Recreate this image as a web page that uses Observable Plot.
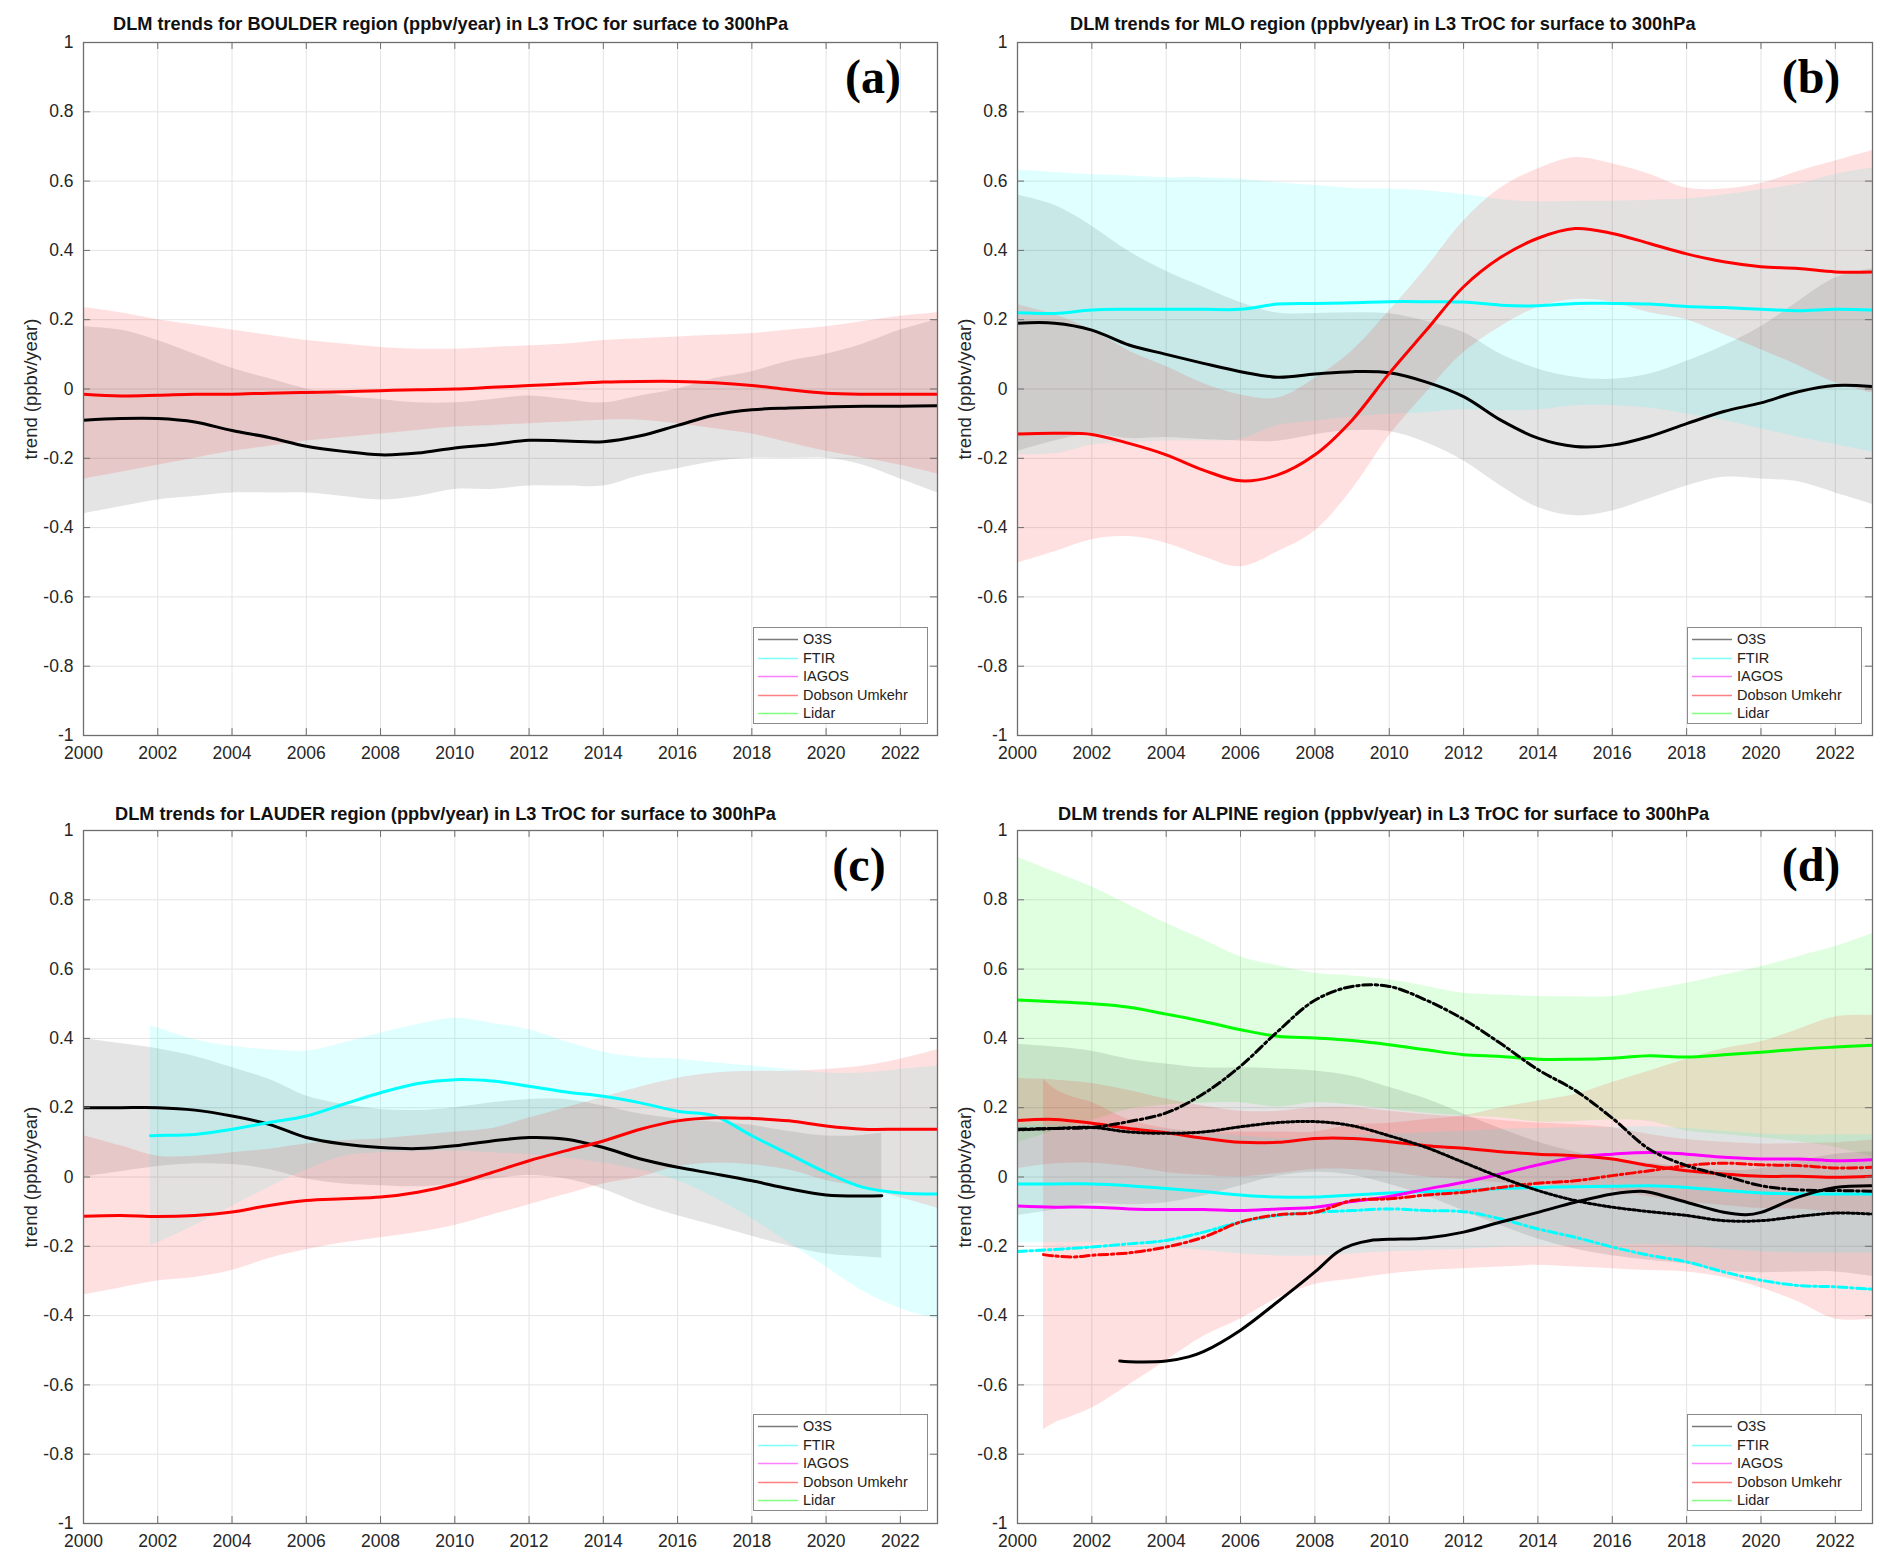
<!DOCTYPE html>
<html><head><meta charset="utf-8">
<script src="https://cdn.jsdelivr.net/npm/d3@7"></script>
<script src="https://cdn.jsdelivr.net/npm/@observablehq/plot@0.6"></script>
<style>
body{margin:0;background:#fff;font-family:"Liberation Sans",Arial,sans-serif;}
#fig{position:relative;width:1892px;height:1566px;overflow:hidden;}
.panel{position:absolute;}
.title{position:absolute;font-weight:bold;font-size:18.2px;line-height:20px;white-space:nowrap;color:#111;}
.letter{position:absolute;font-family:"Liberation Serif","Times New Roman",serif;font-weight:bold;font-size:48px;line-height:48px;color:#000;transform:translate(-50%,-50%);}
.legend{position:absolute;box-sizing:border-box;border:1.5px solid #8a8a8a;background:#fff;font-size:14.5px;color:#222;}
.legend .row{position:absolute;left:0;height:18px;line-height:18px;white-space:nowrap;}
</style></head><body><div id="fig"></div>
<script>
// ---------------- DATA ----------------
const YEARS = [2000,2001,2002,2003,2004,2005,2006,2007,2008,2009,2010,2011,2012,2013,2014,2015,2016,2017,2018,2019,2020,2021,2022,2023];
const X_TICKS = [2000,2002,2004,2006,2008,2010,2012,2014,2016,2018,2020,2022];
const Y_TICKS = [-1,-0.8,-0.6,-0.4,-0.2,0,0.2,0.4,0.6,0.8,1];
const Y_LABEL = "trend (ppbv/year)";
const SERIES = ["O3S","FTIR","IAGOS","Dobson Umkehr","Lidar"];
const TITLES = [
  "DLM trends for BOULDER region (ppbv/year) in L3 TrOC for surface to 300hPa",
  "DLM trends for MLO region (ppbv/year) in L3 TrOC for surface to 300hPa",
  "DLM trends for LAUDER region (ppbv/year) in L3 TrOC for surface to 300hPa",
  "DLM trends for ALPINE region (ppbv/year) in L3 TrOC for surface to 300hPa"
];
const LETTERS = ["(a)","(b)","(c)","(d)"];

// (a) BOULDER
const a_o3s    = [-0.09,-0.085,-0.085,-0.095,-0.12,-0.14,-0.165,-0.18,-0.19,-0.185,-0.17,-0.16,-0.148,-0.15,-0.152,-0.135,-0.105,-0.075,-0.06,-0.055,-0.052,-0.05,-0.05,-0.048];
const a_o3s_lo = [-0.36,-0.34,-0.32,-0.31,-0.3,-0.3,-0.3,-0.31,-0.32,-0.31,-0.29,-0.29,-0.28,-0.28,-0.28,-0.25,-0.23,-0.21,-0.2,-0.2,-0.2,-0.22,-0.26,-0.3];
const a_o3s_hi = [0.18,0.17,0.14,0.1,0.06,0.03,0.0,-0.02,-0.03,-0.04,-0.04,-0.03,-0.02,-0.03,-0.04,-0.02,0.0,0.03,0.05,0.08,0.1,0.13,0.17,0.2];
const a_dob    = [-0.015,-0.02,-0.018,-0.015,-0.015,-0.012,-0.01,-0.008,-0.005,-0.002,0.0,0.005,0.01,0.015,0.02,0.022,0.022,0.018,0.01,-0.002,-0.012,-0.015,-0.015,-0.015];
const a_dob_lo = [-0.26,-0.24,-0.22,-0.2,-0.18,-0.165,-0.15,-0.14,-0.13,-0.12,-0.11,-0.105,-0.1,-0.095,-0.09,-0.09,-0.1,-0.115,-0.13,-0.155,-0.18,-0.2,-0.22,-0.245];
const a_dob_hi = [0.235,0.22,0.2,0.185,0.17,0.155,0.14,0.13,0.12,0.115,0.115,0.12,0.125,0.13,0.14,0.145,0.15,0.155,0.16,0.17,0.18,0.195,0.21,0.22];

// (b) MLO
const b_o3s    = [0.19,0.19,0.17,0.127,0.1,0.074,0.05,0.034,0.043,0.05,0.047,0.02,-0.022,-0.09,-0.142,-0.166,-0.162,-0.137,-0.1,-0.065,-0.04,-0.008,0.01,0.007];
const b_o3s_lo = [-0.18,-0.15,-0.13,-0.143,-0.14,-0.146,-0.15,-0.151,-0.132,-0.12,-0.123,-0.155,-0.207,-0.28,-0.342,-0.366,-0.352,-0.317,-0.28,-0.255,-0.26,-0.268,-0.3,-0.333];
const b_o3s_hi = [0.56,0.53,0.47,0.397,0.34,0.294,0.25,0.219,0.218,0.22,0.217,0.195,0.163,0.1,0.058,0.034,0.028,0.043,0.08,0.125,0.18,0.252,0.32,0.347];
const b_ftir    = [0.22,0.218,0.228,0.23,0.23,0.23,0.23,0.245,0.247,0.249,0.252,0.252,0.251,0.242,0.24,0.247,0.247,0.245,0.238,0.235,0.23,0.226,0.23,0.228];
const b_ftir_lo = [-0.19,-0.187,-0.162,-0.155,-0.15,-0.15,-0.145,-0.105,-0.093,-0.081,-0.073,-0.068,-0.059,-0.063,-0.06,-0.048,-0.048,-0.055,-0.072,-0.09,-0.115,-0.139,-0.16,-0.182];
const b_ftir_hi = [0.632,0.625,0.618,0.615,0.61,0.61,0.605,0.595,0.587,0.579,0.577,0.572,0.561,0.547,0.54,0.542,0.542,0.545,0.548,0.56,0.575,0.591,0.62,0.638];
const b_dob    = [-0.13,-0.128,-0.131,-0.157,-0.19,-0.234,-0.265,-0.248,-0.19,-0.09,0.045,0.17,0.295,0.38,0.435,0.463,0.449,0.42,0.39,0.367,0.353,0.348,0.338,0.338];
const b_dob_lo = [-0.503,-0.47,-0.435,-0.426,-0.445,-0.484,-0.513,-0.47,-0.41,-0.29,-0.135,-0.01,0.105,0.18,0.235,0.258,0.25,0.22,0.2,0.157,0.113,0.068,0.018,-0.012];
const b_dob_hi = [0.243,0.214,0.17,0.11,0.065,0.016,-0.017,-0.026,0.03,0.11,0.225,0.35,0.485,0.58,0.635,0.668,0.65,0.62,0.58,0.577,0.593,0.628,0.658,0.688];

// (c) LAUDER
const c_o3s_years = [2000,2001,2002,2003,2004,2005,2006,2007,2008,2009,2010,2011,2012,2013,2014,2015,2016,2017,2018,2019,2020,2021,2021.5];
const c_o3s    = [0.2,0.2,0.2,0.193,0.176,0.152,0.114,0.095,0.085,0.082,0.09,0.104,0.114,0.109,0.085,0.052,0.028,0.009,-0.011,-0.034,-0.052,-0.055,-0.054];
const c_o3s_lo = [0.0,0.015,0.03,0.038,0.036,0.022,-0.006,-0.02,-0.025,-0.028,-0.02,-0.006,0.004,-0.006,-0.035,-0.078,-0.112,-0.141,-0.171,-0.199,-0.222,-0.23,-0.234];
const c_o3s_hi = [0.4,0.385,0.37,0.348,0.316,0.282,0.234,0.21,0.195,0.192,0.2,0.214,0.224,0.224,0.205,0.182,0.168,0.159,0.149,0.131,0.118,0.12,0.126];
const c_ftir_years = [2001.8,2002,2003,2004,2005,2006,2007,2008,2009,2010,2011,2012,2013,2014,2015,2016,2017,2018,2019,2020,2021,2022,2023];
const c_ftir    = [0.119,0.12,0.123,0.138,0.157,0.176,0.21,0.243,0.27,0.281,0.277,0.262,0.245,0.233,0.214,0.19,0.176,0.119,0.066,0.013,-0.03,-0.046,-0.049];
const c_ftir_lo = [-0.198,-0.19,-0.14,-0.085,-0.03,0.02,0.06,0.07,0.073,0.075,0.07,0.065,0.055,0.04,0.02,-0.01,-0.06,-0.12,-0.19,-0.26,-0.33,-0.38,-0.41];
const c_ftir_hi = [0.436,0.43,0.396,0.377,0.367,0.363,0.387,0.415,0.44,0.458,0.444,0.425,0.39,0.36,0.345,0.34,0.33,0.32,0.31,0.3,0.3,0.31,0.32];
const c_dob    = [-0.113,-0.111,-0.114,-0.111,-0.101,-0.082,-0.068,-0.063,-0.058,-0.044,-0.02,0.013,0.047,0.076,0.104,0.138,0.162,0.171,0.169,0.162,0.147,0.138,0.138,0.138];
const c_dob_lo = [-0.34,-0.32,-0.3,-0.29,-0.27,-0.235,-0.21,-0.19,-0.175,-0.16,-0.14,-0.11,-0.08,-0.05,-0.02,0.0,0.03,0.04,0.035,0.02,-0.01,-0.03,-0.06,-0.09];
const c_dob_hi = [0.12,0.09,0.06,0.06,0.07,0.08,0.095,0.105,0.11,0.12,0.13,0.14,0.17,0.2,0.23,0.26,0.285,0.3,0.305,0.305,0.31,0.32,0.34,0.367];

// (d) ALPINE
const d_o3s1_years = [2002.75,2003,2004,2004.6,2005,2006,2007,2008,2008.6,2009,2009.5,2010,2011,2012,2013,2014,2015,2016,2016.75,2017,2018,2019,2019.6,2020,2021,2022,2023];
const d_o3s1 = [-0.531,-0.533,-0.531,-0.519,-0.504,-0.442,-0.36,-0.274,-0.217,-0.196,-0.183,-0.18,-0.176,-0.159,-0.13,-0.102,-0.073,-0.049,-0.041,-0.044,-0.073,-0.102,-0.109,-0.102,-0.058,-0.03,-0.025];
const d_o3s2 = [0.138,0.14,0.143,0.16,0.185,0.24,0.32,0.42,0.51,0.55,0.55,0.51,0.455,0.385,0.31,0.25,0.17,0.08,0.033,0.004,-0.025,-0.037,-0.039,-0.041];
const d_o3s3 = [0.136,0.14,0.143,0.13,0.126,0.13,0.145,0.157,0.16,0.148,0.119,0.085,0.042,-0.001,-0.039,-0.068,-0.087,-0.1,-0.111,-0.126,-0.126,-0.114,-0.104,-0.107];
const d_o3s3_lo = [-0.111,-0.095,-0.077,-0.08,-0.074,-0.055,-0.025,0.002,0.014,0.005,-0.021,-0.055,-0.098,-0.141,-0.179,-0.208,-0.227,-0.24,-0.251,-0.271,-0.276,-0.274,-0.274,-0.287];
const d_o3s3_hi = [0.383,0.375,0.363,0.34,0.326,0.315,0.315,0.312,0.306,0.291,0.259,0.225,0.182,0.139,0.101,0.072,0.053,0.04,0.029,0.019,0.024,0.046,0.066,0.073];
const d_ftir1 = [-0.02,-0.02,-0.02,-0.025,-0.033,-0.042,-0.052,-0.058,-0.058,-0.052,-0.046,-0.042,-0.039,-0.033,-0.03,-0.028,-0.027,-0.025,-0.03,-0.039,-0.046,-0.049,-0.049,-0.049];
const d_ftir1_lo = [-0.19,-0.19,-0.19,-0.195,-0.203,-0.212,-0.222,-0.228,-0.228,-0.222,-0.216,-0.212,-0.209,-0.203,-0.2,-0.198,-0.197,-0.195,-0.2,-0.209,-0.216,-0.219,-0.219,-0.219];
const d_ftir1_hi = [0.15,0.15,0.15,0.145,0.137,0.128,0.118,0.112,0.112,0.118,0.124,0.128,0.131,0.137,0.14,0.142,0.143,0.145,0.14,0.131,0.124,0.121,0.121,0.121];
const d_ftir2 = [-0.215,-0.209,-0.202,-0.193,-0.183,-0.159,-0.13,-0.111,-0.102,-0.097,-0.092,-0.097,-0.1,-0.121,-0.15,-0.174,-0.202,-0.226,-0.245,-0.274,-0.298,-0.313,-0.317,-0.324];
const d_iag = [-0.084,-0.087,-0.087,-0.092,-0.094,-0.094,-0.097,-0.092,-0.087,-0.071,-0.056,-0.035,-0.015,0.009,0.035,0.057,0.066,0.071,0.066,0.057,0.052,0.052,0.047,0.05];
const d_dob1 = [0.163,0.166,0.155,0.14,0.128,0.112,0.1,0.1,0.111,0.111,0.102,0.09,0.083,0.073,0.066,0.061,0.052,0.033,0.018,0.009,0.002,0.002,-0.001,0.002];
const d_dob1_lo = [0.024,0.038,0.04,0.03,0.013,0.005,0.0,0.01,0.022,0.022,0.014,0.0,-0.007,-0.017,-0.024,-0.029,-0.038,-0.057,-0.072,-0.082,-0.091,-0.093,-0.101,-0.103];
const d_dob1_hi = [0.284,0.28,0.27,0.25,0.225,0.205,0.19,0.19,0.2,0.2,0.19,0.18,0.173,0.163,0.156,0.151,0.142,0.123,0.108,0.1,0.095,0.097,0.099,0.107];
const d_dob2_years = [2000.7,2001,2001.5,2002,2003,2004,2005,2006,2007,2008,2009,2010,2011,2012,2013,2014,2015,2016,2017,2018,2019,2020,2021,2022,2023];
const d_dob2 = [-0.224,-0.228,-0.231,-0.226,-0.219,-0.202,-0.174,-0.13,-0.109,-0.102,-0.068,-0.063,-0.052,-0.044,-0.03,-0.018,-0.011,0.004,0.018,0.033,0.04,0.035,0.033,0.026,0.028];
const d_dob2_lo = [-0.73,-0.71,-0.69,-0.667,-0.6,-0.53,-0.46,-0.41,-0.35,-0.31,-0.295,-0.28,-0.27,-0.265,-0.26,-0.255,-0.26,-0.265,-0.27,-0.274,-0.29,-0.32,-0.36,-0.41,-0.41];
const d_dob2_hi = [0.282,0.254,0.23,0.215,0.165,0.14,0.13,0.13,0.13,0.13,0.15,0.155,0.166,0.177,0.2,0.219,0.238,0.273,0.306,0.34,0.37,0.39,0.426,0.462,0.466];
const d_lid = [0.511,0.506,0.5,0.49,0.47,0.449,0.425,0.406,0.401,0.394,0.382,0.367,0.353,0.348,0.34,0.34,0.343,0.35,0.346,0.353,0.36,0.369,0.375,0.38];
const d_lid_lo = [0.099,0.132,0.163,0.195,0.208,0.213,0.214,0.202,0.214,0.208,0.195,0.184,0.176,0.171,0.159,0.16,0.165,0.16,0.133,0.123,0.113,0.102,0.085,0.057];
const d_lid_hi = [0.923,0.88,0.837,0.785,0.732,0.685,0.636,0.61,0.588,0.58,0.569,0.55,0.53,0.525,0.521,0.52,0.521,0.54,0.559,0.583,0.607,0.636,0.665,0.703];

// ---------------- helpers ----------------
const COLORS = {"O3S":"#000000","FTIR":"#00ffff","IAGOS":"#ff00ff","Dobson Umkehr":"#ff0000","Lidar":"#00ff00"};
const LEGEND_COLORS = {"O3S":"#7a7a7a","FTIR":"#80ffff","IAGOS":"#ff80ff","Dobson Umkehr":"#ff8080","Lidar":"#80ff80"};
const pts = (xs, ys) => xs.map((x, i) => ({x, y: ys[i]}));
const band = (xs, lo, hi) => xs.map((x, i) => ({x, lo: lo[i], hi: hi[i]}));
const DASH = {solid: null, dashdot: "9,3.5,2.5,3.5", dot: "2.5,2.5"};

const fig = document.getElementById("fig");
const fmtY = d => Math.abs(d) < 1e-9 ? "0" : String(+d.toFixed(1)).replace("\u2212","-");

function makePanel(cfg) {
  const {left, top, width, height, mL, mR, mT, mB, bands, lines} = cfg;
  const marks = [
    Plot.ruleX(X_TICKS, {stroke: "#e4e4e4", strokeWidth: 1}),
    Plot.ruleY(Y_TICKS, {stroke: "#e4e4e4", strokeWidth: 1}),
    ...bands.map(b => Plot.areaY(b.data, {x: "x", y1: "lo", y2: "hi", fill: COLORS[b.s], fillOpacity: b.s === "O3S" ? 0.105 : 0.12, curve: "catmull-rom", clip: true})),
    ...lines.map(l => Plot.line(l.data, {x: "x", y: "y", stroke: COLORS[l.s], strokeWidth: 3, strokeDasharray: DASH[l.dash || "solid"], curve: "catmull-rom", clip: true})),
    // inward ticks on all four sides
    Plot.ruleX(X_TICKS, {y1: -1, y2: -0.98, stroke: "#6e6e6e"}),
    Plot.ruleX(X_TICKS, {y1: 1, y2: 0.98, stroke: "#6e6e6e"}),
    Plot.ruleY(Y_TICKS, {x1: 2000, x2: 2000.19, stroke: "#6e6e6e"}),
    Plot.ruleY(Y_TICKS, {x1: 2023, x2: 2022.81, stroke: "#6e6e6e"}),
    Plot.frame({stroke: "#6e6e6e", strokeWidth: 1.3}),
    Plot.axisX(X_TICKS, {tickSize: 0, tickPadding: 11, tickFormat: d => String(d), fontSize: 17.5, label: null}),
    Plot.axisY(Y_TICKS, {tickSize: 0, tickPadding: 10, tickFormat: fmtY, fontSize: 17.5, label: null}),
    Plot.text([Y_LABEL], {frameAnchor: "left", textAnchor: "middle", lineAnchor: "middle", rotate: -90, dx: -52, fontSize: 18.5, fill: "#262626"})
  ];
  const svg = Plot.plot({
    width, height, marginLeft: mL, marginRight: mR, marginTop: mT, marginBottom: mB,
    x: {domain: [2000, 2023]}, y: {domain: [-1, 1]},
    style: {fontFamily: "'Liberation Sans', Arial, sans-serif", fontSize: "17px", color: "#262626", background: "#fff", overflow: "visible"},
    marks
  });
  const div = document.createElement("div");
  div.className = "panel";
  div.style.left = left + "px"; div.style.top = top + "px";
  div.appendChild(svg);
  fig.appendChild(div);
}

function addText(cls, txt, x, y) {
  const d = document.createElement("div");
  d.className = cls; d.textContent = txt;
  d.style.left = x + "px"; d.style.top = y + "px";
  fig.appendChild(d);
}

function addLegend(x, y) {
  const lg = document.createElement("div");
  lg.className = "legend";
  lg.style.left = x + "px"; lg.style.top = y + "px";
  lg.style.width = "175px"; lg.style.height = "97px";
  SERIES.forEach((s, i) => {
    const r = document.createElement("div");
    r.className = "row";
    r.style.top = (2 + i * 18.5) + "px";
    r.innerHTML = `<svg width="46" height="18" style="vertical-align:top"><line x1="4" y1="9.5" x2="44" y2="9.5" stroke="${LEGEND_COLORS[s]}" stroke-width="1.6"/></svg><span style="position:relative;left:3px">${s}</span>`;
    lg.appendChild(r);
  });
  fig.appendChild(lg);
}

// ---------------- panels ----------------
const W = 946, H = 783;
makePanel({left: 0, top: 0, width: W, height: H, mL: 83, mR: 9, mT: 42, mB: 48,
  bands: [{s: "O3S", data: band(YEARS, a_o3s_lo, a_o3s_hi)}, {s: "Dobson Umkehr", data: band(YEARS, a_dob_lo, a_dob_hi)}],
  lines: [{s: "O3S", data: pts(YEARS, a_o3s)}, {s: "Dobson Umkehr", data: pts(YEARS, a_dob)}]});
makePanel({left: 946, top: 0, width: W, height: H, mL: 71, mR: 20, mT: 42, mB: 48,
  bands: [{s: "O3S", data: band(YEARS, b_o3s_lo, b_o3s_hi)}, {s: "FTIR", data: band(YEARS, b_ftir_lo, b_ftir_hi)}, {s: "Dobson Umkehr", data: band(YEARS, b_dob_lo, b_dob_hi)}],
  lines: [{s: "O3S", data: pts(YEARS, b_o3s)}, {s: "FTIR", data: pts(YEARS, b_ftir)}, {s: "Dobson Umkehr", data: pts(YEARS, b_dob)}]});
makePanel({left: 0, top: H, width: W, height: H, mL: 83, mR: 9, mT: 47, mB: 43,
  bands: [{s: "O3S", data: band(c_o3s_years, c_o3s_lo, c_o3s_hi)}, {s: "FTIR", data: band(c_ftir_years, c_ftir_lo, c_ftir_hi)}, {s: "Dobson Umkehr", data: band(YEARS, c_dob_lo, c_dob_hi)}],
  lines: [{s: "O3S", data: pts(c_o3s_years, c_o3s)}, {s: "FTIR", data: pts(c_ftir_years, c_ftir)}, {s: "Dobson Umkehr", data: pts(YEARS, c_dob)}]});
makePanel({left: 946, top: H, width: W, height: H, mL: 71, mR: 20, mT: 47, mB: 43,
  bands: [
    {s: "Lidar", data: band(YEARS, d_lid_lo, d_lid_hi)},
    {s: "O3S", data: band(YEARS, d_o3s3_lo, d_o3s3_hi)},
    {s: "Dobson Umkehr", data: band(YEARS, d_dob1_lo, d_dob1_hi)},
    {s: "Dobson Umkehr", data: band(d_dob2_years, d_dob2_lo, d_dob2_hi)},
    {s: "FTIR", data: band(YEARS, d_ftir1_lo, d_ftir1_hi)}],
  lines: [
    {s: "Lidar", data: pts(YEARS, d_lid)},
    {s: "FTIR", data: pts(YEARS, d_ftir1)},
    {s: "FTIR", data: pts(YEARS, d_ftir2), dash: "dashdot"},
    {s: "IAGOS", data: pts(YEARS, d_iag)},
    {s: "Dobson Umkehr", data: pts(YEARS, d_dob1)},
    {s: "Dobson Umkehr", data: pts(d_dob2_years, d_dob2), dash: "dashdot"},
    {s: "O3S", data: pts(d_o3s1_years, d_o3s1)},
    {s: "O3S", data: pts(YEARS, d_o3s2), dash: "dashdot"},
    {s: "O3S", data: pts(YEARS, d_o3s3), dash: "dot"}]});

// titles, panel letters, legends
addText("title", TITLES[0], 113, 14);
addText("title", TITLES[1], 1070, 14);
addText("title", TITLES[2], 115, 804);
addText("title", TITLES[3], 1058, 804);
addText("letter", LETTERS[0], 873, 77);
addText("letter", LETTERS[1], 1811, 77);
addText("letter", LETTERS[2], 859, 865);
addText("letter", LETTERS[3], 1811, 865);
addLegend(753, 627);
addLegend(1687, 627);
addLegend(753, 1414);
addLegend(1687, 1414);
</script></body></html>
